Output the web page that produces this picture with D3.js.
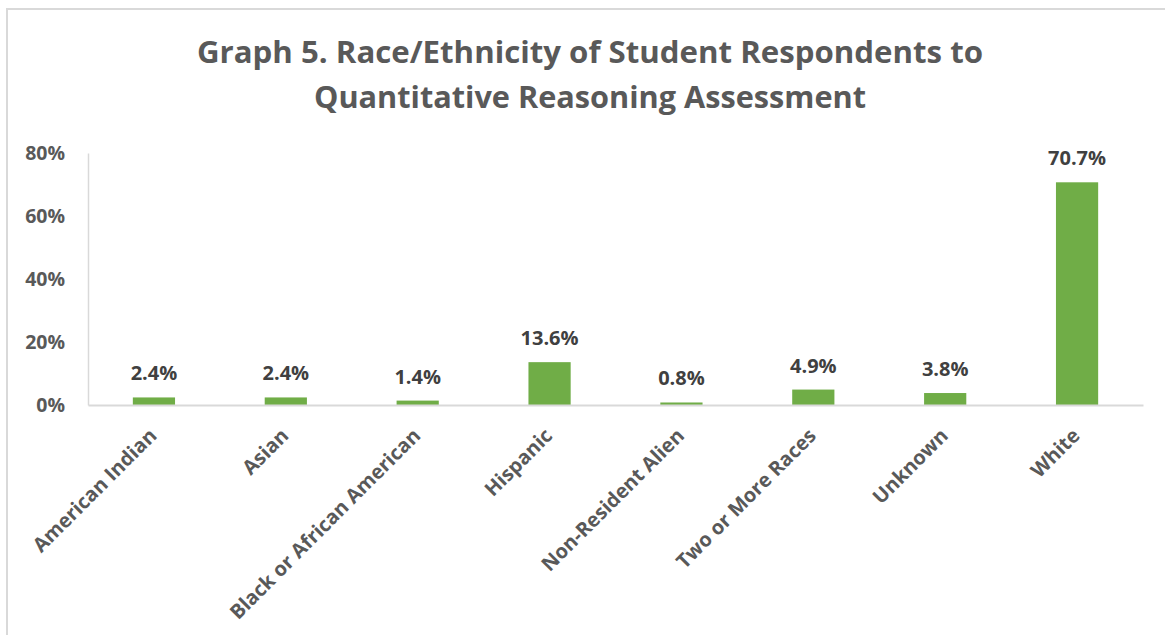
<!DOCTYPE html>
<html>
<head>
<meta charset="utf-8">
<script src="https://cdn.jsdelivr.net/npm/d3@7"></script>
<style>
  body { margin: 0; background: #fff; }
  svg { display: block; font-family: "Open Sans", sans-serif; }
</style>
</head>
<body>
<div id="chart"></div>
<script>
var categories = ["American Indian", "Asian", "Black or African American", "Hispanic",
    "Non-Resident Alien", "Two or More Races", "Unknown", "White"];
var percents = [2.4, 2.4, 1.4, 13.6, 0.8, 4.9, 3.8, 70.7];
var yTicks = [0, 20, 40, 60, 80];
var titleLines = ["Graph 5. Race/Ethnicity of Student Respondents to",
    "Quantitative Reasoning Assessment"];

function drawChart(divName) {
    var W = 1165, H = 635;
    var margin = {top: 153, right: 22, bottom: 230, left: 88}
        , width = W - margin.left - margin.right
        , height = H - margin.top - margin.bottom;

    var data = categories.map(function (c, i) { return {name: c, value: percents[i]}; });

    var x = d3.scaleBand()
        .domain(categories)
        .range([0, width])
        .paddingInner(0.68)
        .paddingOuter(0.34);

    var y = d3.scaleLinear()
        .domain([0, 80])
        .range([height, 0]);

    var svg = d3.select('#' + divName)
        .append('svg')
        .attr('width', W)
        .attr('height', H);

    // chart frame (only top and left edges visible in the crop)
    svg.append("path")
        .attr("d", "M7," + H + "V9H" + W)
        .attr("fill", "none")
        .attr("stroke", "#d9d9d9")
        .attr("stroke-width", 2);

    svg.selectAll(".title")
        .data(titleLines)
        .enter().append("text")
        .attr("class", "title")
        .attr("x", 590)
        .attr("y", function (d, i) { return 63 + i * 45; })
        .attr("text-anchor", "middle")
        .attr("font-size", 30)
        .attr("font-weight", 700)
        .attr("fill", "#595959")
        .attr("textLength", function (d, i) { return i == 0 ? 786 : 552; })
        .attr("lengthAdjust", "spacingAndGlyphs")
        .text(function (d) { return d; });

    var main = svg.append('g')
        .attr('transform', 'translate(' + margin.left + ',' + margin.top + ')');

    // y axis
    var yAxis = main.append("g")
        .call(d3.axisLeft(y).tickValues(yTicks).tickSize(0).tickPadding(23)
            .tickFormat(function (d) { return d + "%"; }));
    yAxis.select(".domain").attr("stroke", "#d9d9d9").attr("stroke-width", 1.5);
    yAxis.selectAll("text")
        .attr("font-size", 19.5)
        .attr("font-weight", 700)
        .attr("fill", "#595959")
        .attr("font-family", "Open Sans, sans-serif");

    // bars
    main.selectAll(".bar")
        .data(data)
        .enter().append("rect")
        .attr("class", "bar")
        .attr("x", function (d) { return x(d.name); })
        .attr("y", function (d) { return y(d.value); })
        .attr("width", x.bandwidth())
        .attr("height", function (d) { return height - y(d.value); })
        .attr("fill", "#70ad47");

    // x axis baseline
    var xAxis = main.append("g")
        .attr("transform", "translate(0," + height + ")")
        .call(d3.axisBottom(x).tickSize(0).tickSizeOuter(0).tickPadding(0));
    xAxis.select(".domain").attr("stroke", "#d9d9d9").attr("stroke-width", 2);
    xAxis.selectAll("text")
        .attr("font-size", 20)
        .attr("font-weight", 700)
        .attr("fill", "#595959")
        .attr("font-family", "Open Sans, sans-serif")
        .attr("text-anchor", "end")
        .attr("dy", 0)
        .attr("transform", "translate(4,32) rotate(-45)");

    // value labels
    main.selectAll(".label")
        .data(data)
        .enter().append("text")
        .attr("class", "label")
        .attr("x", function (d) { return x(d.name) + x.bandwidth() / 2; })
        .attr("y", function (d) { return y(d.value) - 17; })
        .attr("text-anchor", "middle")
        .attr("font-size", 20)
        .attr("font-weight", 700)
        .attr("fill", "#404040")
        .text(function (d) { return d.value.toFixed(1) + "%"; });
}

drawChart("chart");
</script>
</body>
</html>
